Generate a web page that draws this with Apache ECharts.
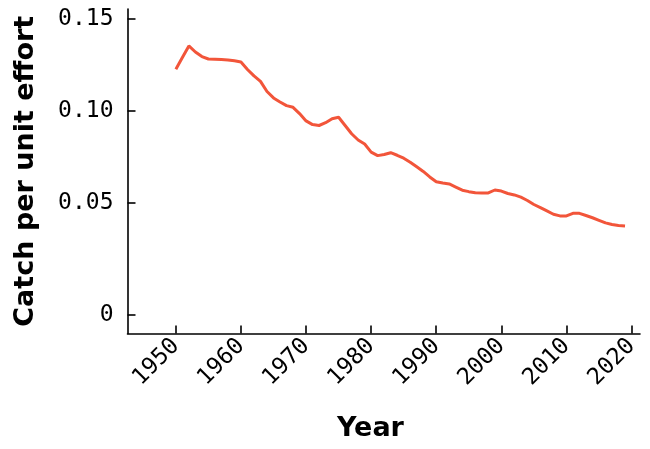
<!DOCTYPE html>
<html>
<head>
<meta charset="utf-8">
<script src="https://cdn.jsdelivr.net/npm/echarts@6/dist/echarts.min.js"></script>
<style>
html,body{margin:0;padding:0;background:#fff;}
#c{width:650px;height:449px;}
</style>
</head>
<body>
<div id="c"></div>
<script>
const years = [1950,1951,1952,1953,1954,1955,1956,1957,1958,1959,
  1960,1961,1962,1963,1964,1965,1966,1967,1968,1969,
  1970,1971,1972,1973,1974,1975,1976,1977,1978,1979,
  1980,1981,1982,1983,1984,1985,1986,1987,1988,1989,
  1990,1991,1992,1993,1994,1995,1996,1997,1998,1999,
  2000,2001,2002,2003,2004,2005,2006,2007,2008,2009,
  2010,2011,2012,2013,2014,2015,2016,2017,2018,2019];
const cpue = [0.1226,0.1290,0.1353,0.1320,0.1295,0.1282,0.1281,0.1279,0.1277,0.1272,
  0.1266,0.1225,0.1190,0.1160,0.1105,0.1070,0.1048,0.1028,0.1019,0.0985,
  0.0945,0.0925,0.0920,0.0935,0.0957,0.0965,0.0920,0.0875,0.0841,0.0819,
  0.0775,0.0756,0.0762,0.0772,0.0758,0.0742,0.0720,0.0695,0.0670,0.0640,
  0.0614,0.0607,0.0602,0.0585,0.0568,0.0560,0.0554,0.0553,0.0553,0.0569,
  0.0563,0.0550,0.0542,0.0530,0.0512,0.0490,0.0473,0.0455,0.0437,0.0428,
  0.0428,0.0442,0.0442,0.0430,0.0418,0.0404,0.0390,0.0381,0.0376,0.0373];
const xTicks = [1950,1960,1970,1980,1990,2000,2010,2020];
const yTicks = [0.05,0.10,0.15];
const yZeroTickPos = -0.0111; // where the "0" tick sits in the picture
const yTickLabels = ['0','0.05','0.10','0.15'];

const yTickValues = [yZeroTickPos].concat(yTicks);
const chart = echarts.init(document.getElementById('c'), null, {renderer:'canvas'});
const mono = 'DejaVu Sans Mono';
const heavy = 'DejaVu Sans';
chart.setOption({
  animation:false,
  backgroundColor:'#fff',
  grid:{left:127.5, right:10, top:9, bottom:115.5, containLabel:false, outerBoundsMode:'none'},
  title:{
    text:'Year', left:332, top:410,
    textStyle:{fontFamily:heavy, fontWeight:'bold', fontSize:27, color:'#000'}
  },
  xAxis:{
    type:'value', min:1942.57, max:2021.3,
    axisLine:{show:true, onZero:false, lineStyle:{color:'#000', width:1.6}},
    axisTick:{show:true, inside:true, length:8, customValues:xTicks, lineStyle:{color:'#000', width:1.6}},
    axisLabel:{customValues:xTicks, rotate:45, margin:9, fontFamily:mono, fontSize:23, color:'#000',
      formatter:v=>String(v)},
    splitLine:{show:false}
  },
  yAxis:{
    type:'value', min:-0.0212, max:0.1554,
    name:'Catch per unit effort', nameLocation:'middle', nameRotate:90, nameGap:88,
    nameTextStyle:{fontFamily:heavy, fontWeight:'bold', fontSize:27, color:'#000'},
    axisLine:{show:true, onZero:false, lineStyle:{color:'#000', width:1.6}},
    axisTick:{show:true, inside:true, length:8, customValues:yTickValues, lineStyle:{color:'#000', width:1.6}},
    axisLabel:{customValues:yTickValues, margin:14, fontFamily:mono, fontSize:23, color:'#000',
      formatter:v=>{const i=yTickValues.findIndex(t=>Math.abs(t-v)<1e-6); return i>=0?yTickLabels[i]:'';}},
    splitLine:{show:false}
  },
  series:[{
    type:'line',
    data:years.map((y,i)=>[y,cpue[i]]),
    showSymbol:false,
    lineStyle:{color:'#F2553A', width:3},
    itemStyle:{color:'#F2553A'}
  }]
});
</script>
</body>
</html>
